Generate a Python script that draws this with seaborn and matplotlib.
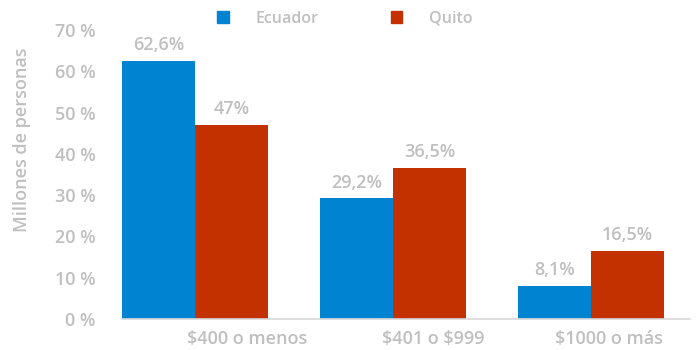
import matplotlib
matplotlib.use("Agg")
import matplotlib.pyplot as plt
import matplotlib.patches as mpatches
import seaborn as sns
import pandas as pd

# Income brackets and share of population per bracket
categories = ["$400 o menos", "$401 o $999", "$1000 o más"]
series_names = ["Ecuador", "Quito"]
ecuador = [62.6, 29.2, 8.1]
quito = [47.0, 36.5, 16.5]
y_ticks = [0, 10, 20, 30, 40, 50, 60, 70]

colors = {"Ecuador": "#0084D1", "Quito": "#C33100"}
text_grey = "#BFBFBF"

df = pd.DataFrame({
    "rango": categories * 2,
    "serie": [series_names[0]] * 3 + [series_names[1]] * 3,
    "valor": ecuador + quito,
})

sns.set_theme(style="white")
plt.rcParams["font.family"] = ["Open Sans", "DejaVu Sans"]
plt.rcParams["text.parse_math"] = False

fig = plt.figure(figsize=(6.99, 3.5), dpi=100)
ax = fig.add_axes([0.1745, 0.0886, 0.8125, 0.8254])

sns.barplot(data=df, x="rango", y="valor", hue="serie", palette=colors,
            width=0.74, gap=0, errorbar=None, saturation=1, ax=ax,
            linewidth=0)

def fmt(v):
    s = f"{v:g}".replace(".", ",")
    return s + "%"

for cont in ax.containers:
    ax.bar_label(cont, labels=[fmt(b.get_height()) for b in cont],
                 padding=5, color=text_grey, fontsize=13, fontweight="semibold")

ax.set_xlim(-0.37, 2.5)
ax.set_ylim(0, 70)
ax.set_yticks(y_ticks)
ax.set_yticklabels([f"{t} %" for t in y_ticks])
ax.tick_params(axis="y", length=0, pad=19, labelsize=13, labelcolor=text_grey)

# category labels sit to the right of each group's centre
ax.set_xticks([0.26, 1.205, 2.09])
ax.set_xticklabels(categories, parse_math=False)
ax.tick_params(axis="x", length=0, pad=8, labelsize=13, labelcolor=text_grey)
for lbl in ax.get_xticklabels() + ax.get_yticklabels():
    lbl.set_fontweight("semibold")

for side in ["top", "right", "left"]:
    ax.spines[side].set_visible(False)
ax.spines["bottom"].set_color("#D9D9D9")
ax.spines["bottom"].set_linewidth(1.2)

ax.set_xlabel("")
ax.set_ylabel("Millones de personas", color=text_grey, fontsize=13,
              fontweight="semibold")
ax.yaxis.set_label_coords(-0.16, 0.62)

ax.get_legend().remove()
handles = [mpatches.Patch(color=colors[n], label=n) for n in series_names]
leg = fig.legend(handles=handles, ncol=2, loc="center left",
                 bbox_to_anchor=(0.29, 0.947), frameon=False,
                 handlelength=0.72, handleheight=0.72, handletextpad=1.7,
                 columnspacing=4.5, fontsize=11.5)
for t in leg.get_texts():
    t.set_color(text_grey)
    t.set_fontweight("semibold")

fig.savefig("out.png", dpi=100)
